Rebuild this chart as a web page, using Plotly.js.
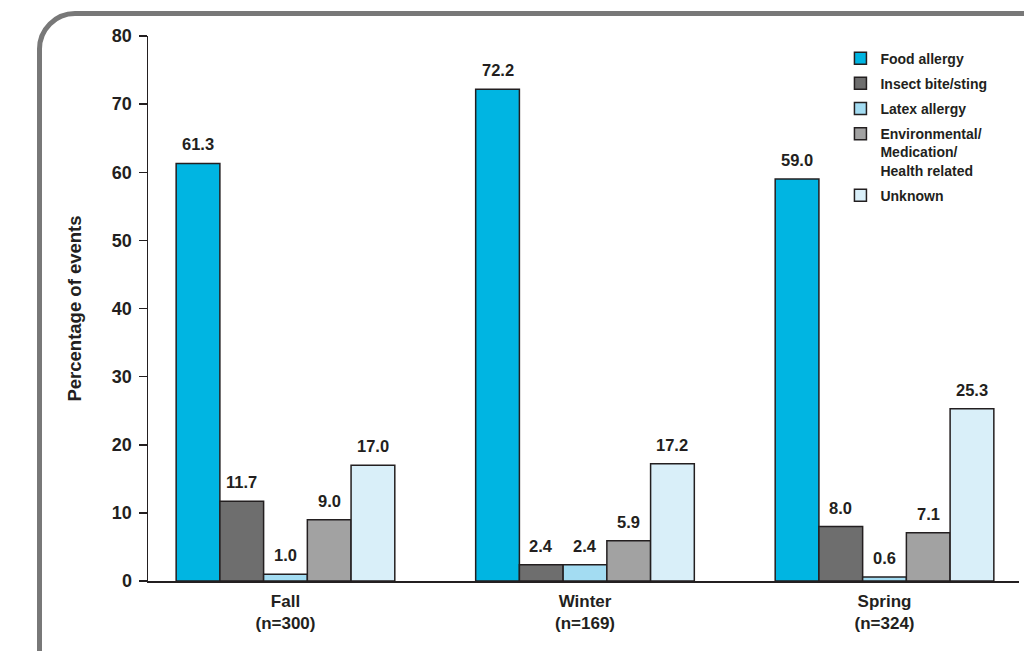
<!DOCTYPE html>
<html>
<head>
<meta charset="utf-8">
<script src="https://cdn.plot.ly/plotly-3.0.1.min.js"></script>
<style>
  html, body { margin: 0; padding: 0; width: 1024px; height: 651px; overflow: hidden; background: #fff; }
  #frame {
    position: absolute; left: 37px; top: 11px; width: 1100px; height: 800px;
    border: 5px solid #787878; border-radius: 38px; box-sizing: border-box;
  }
  #chart { position: absolute; left: 0; top: 0; width: 1024px; height: 651px; }
</style>
</head>
<body>
<div id="frame"></div>
<div id="chart"></div>
<script>
// Seasons (x categories)
const seasons = ["Fall<br>(n=300)", "Winter<br>(n=169)", "Spring<br>(n=324)"];

// Percentage of events by trigger
const foodAllergy   = [61.3, 72.2, 59.0];
const insectBite    = [11.7, 2.4, 8.0];
const latexAllergy  = [1.0, 2.4, 0.6];
const environmental = [9.0, 5.9, 7.1];
const unknown       = [17.0, 17.2, 25.3];

const seriesNames = [
  "Food allergy",
  "Insect bite/sting",
  "Latex allergy",
  "Environmental/<br>Medication/<br>Health related",
  "Unknown"
];
const seriesValues = [foodAllergy, insectBite, latexAllergy, environmental, unknown];
const seriesColors = ["#00b5e2", "#6e6e6e", "#a3dcf2", "#a2a2a2", "#d9eff9"];

const yTicks = [0, 10, 20, 30, 40, 50, 60, 70, 80];

const FONT = "Liberation Sans, Arial, Helvetica, sans-serif";
const INK = "#231f20";
const BARGAP = 0.27;

const traces = seriesValues.map((vals, i) => ({
  type: "bar",
  name: seriesNames[i],
  legendgroup: "g" + i,
  x: seasons,
  y: vals,
  marker: { color: seriesColors[i], line: { color: INK, width: 1.5 } },
  hoverinfo: "skip"
}));

// Value labels above each bar, placed at the bar's slot within its group
const nSeries = seriesValues.length;
const barW = (1 - BARGAP) / nSeries;
const annotations = [];
seriesValues.forEach((vals, i) => {
  vals.forEach((v, j) => {
    annotations.push({
      x: j + (i - (nSeries - 1) / 2) * barW,
      y: v,
      xref: "x", yref: "y",
      text: v.toFixed(1),
      showarrow: false,
      yanchor: "bottom",
      yshift: 8,
      font: { family: FONT, size: 16.5, color: INK, weight: "bold" }
    });
  });
});

const layout = {
  width: 1024, height: 651,
  margin: { l: 148, r: 5, t: 36, b: 70 },
  paper_bgcolor: "rgba(0,0,0,0)",
  plot_bgcolor: "rgba(0,0,0,0)",
  barmode: "group",
  bargap: BARGAP,
  bargroupgap: 0,
  font: { family: FONT, color: INK },
  xaxis: {
    type: "category",
    range: [-0.459, 2.449],
    showline: true, linecolor: INK, linewidth: 1.5,
    ticks: "", showgrid: false, zeroline: false,
    ticklabelstandoff: 4,
    tickfont: { family: FONT, size: 17, color: INK, weight: "bold" }
  },
  yaxis: {
    range: [0, 80],
    tickvals: yTicks,
    showline: true, linecolor: INK, linewidth: 1.5,
    ticks: "outside", ticklen: 8, tickwidth: 1.5, tickcolor: INK,
    showgrid: false, zeroline: false,
    ticklabelstandoff: 3,
    tickfont: { family: FONT, size: 18, color: INK, weight: "bold" },
    title: {
      text: "Percentage of events",
      standoff: 25,
      font: { family: FONT, size: 18.5, color: INK, weight: "bold" }
    }
  },
  showlegend: true,
  legend: {
    x: 0.795, xanchor: "left",
    y: 0.988, yanchor: "top",
    traceorder: "grouped",
    tracegroupgap: 4,
    valign: "top",
    bgcolor: "rgba(0,0,0,0)",
    font: { family: FONT, size: 14, color: INK, weight: "bold" }
  },
  annotations: annotations
};

Plotly.newPlot("chart", traces, layout, { displayModeBar: false, staticPlot: true });
</script>
</body>
</html>
